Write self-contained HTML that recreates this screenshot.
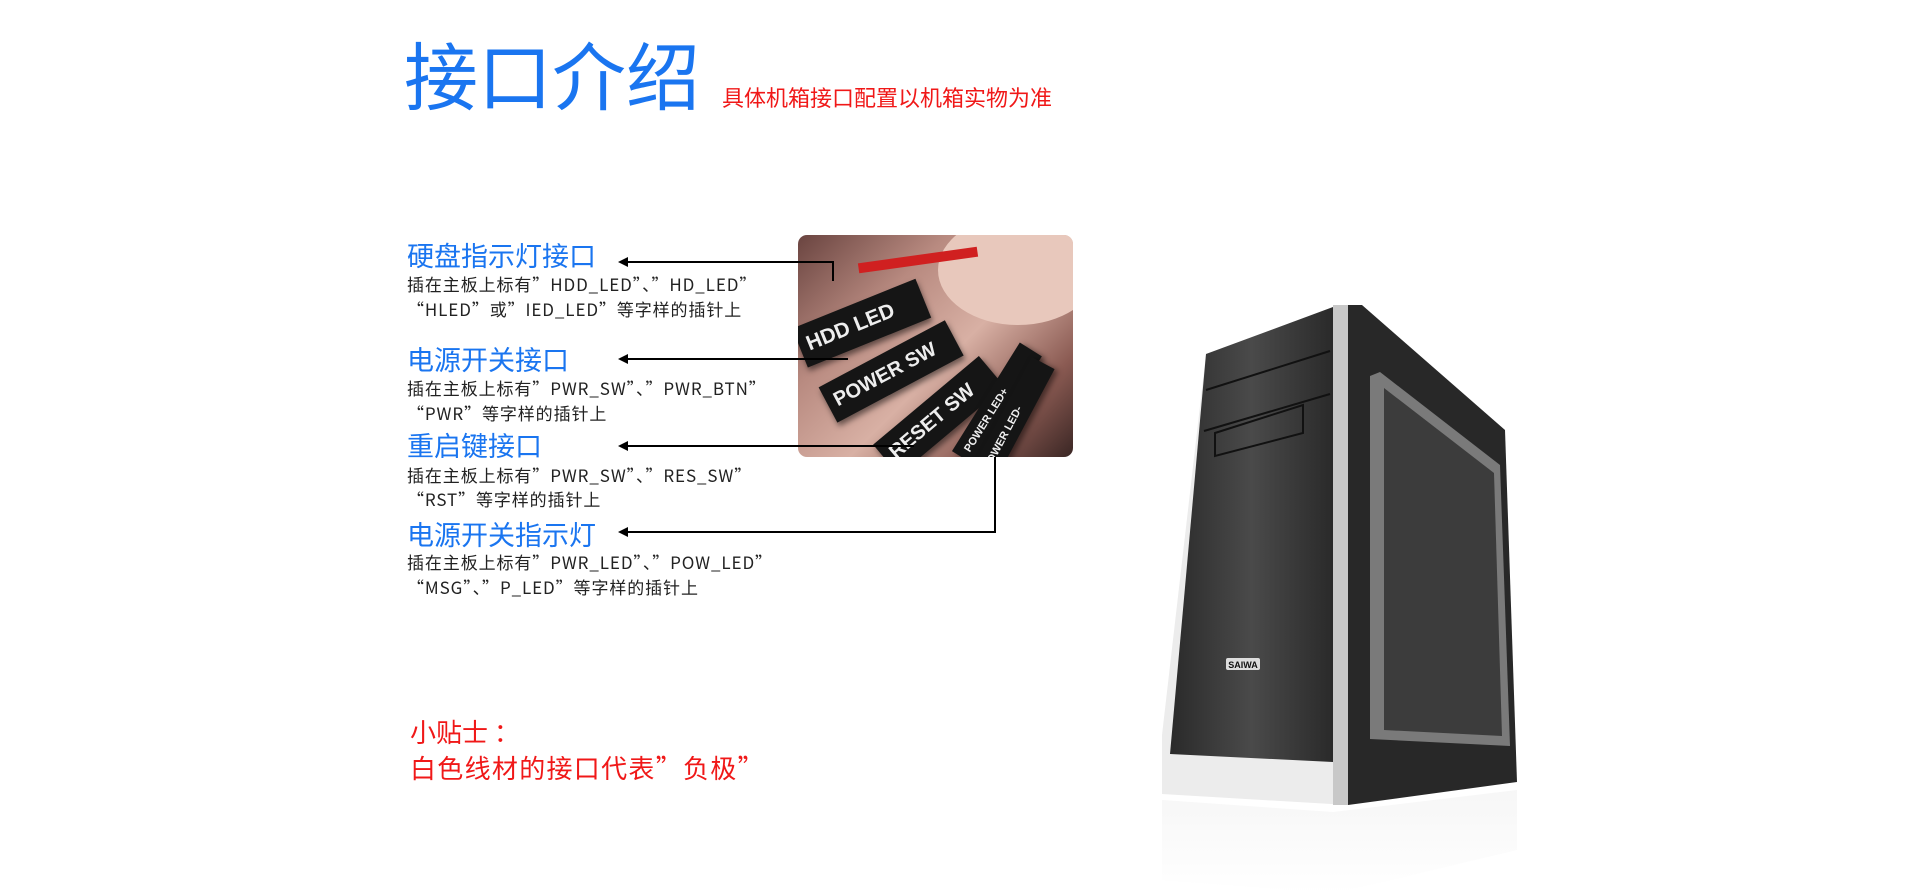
<!DOCTYPE html>
<html><head><meta charset="utf-8"><style>
*{margin:0;padding:0}
body{width:1920px;height:896px;background:#fff;position:relative;overflow:hidden;font-family:"Liberation Sans","Noto Sans CJK SC",sans-serif}
.a{position:absolute;white-space:nowrap}
.h{color:#1a75f0;font-size:27px;line-height:28px;font-family:"Noto Sans CJK SC",sans-serif}
.d{color:#222;font-size:17px;letter-spacing:0.9px;line-height:18px;font-family:"Noto Sans CJK SC",sans-serif}
.r{color:#f01818;font-family:"Noto Sans CJK SC",sans-serif}
.ln{position:absolute;background:#000}
.ar{position:absolute;width:0;height:0;border-top:5px solid transparent;border-bottom:5px solid transparent;border-right:10px solid #000}
.tag{position:absolute;background:#151515;color:#eee;font-weight:bold;font-family:"Liberation Sans",sans-serif;transform-origin:left center;padding-left:8px;box-shadow:0 4px 6px rgba(0,0,0,.5)}
</style></head><body>
<div class="a" style="left:404px;top:28px;font-size:74px;line-height:90px;color:#1a75f0;font-family:'Noto Sans CJK SC',sans-serif">接口介绍</div>
<div class="a r" style="left:722px;top:84px;font-size:22px;line-height:26px">具体机箱接口配置以机箱实物为准</div>

<div class="a h" style="left:407px;top:241px">硬盘指示灯接口</div>
<div class="a d" style="left:407px;top:275px">插在主板上标有”HDD_LED”、”HD_LED”</div>
<div class="a d" style="left:407px;top:300px">“HLED”或”IED_LED”等字样的插针上</div>
<div class="a h" style="left:407px;top:345px">电源开关接口</div>
<div class="a d" style="left:407px;top:379px">插在主板上标有”PWR_SW”、”PWR_BTN”</div>
<div class="a d" style="left:407px;top:404px">“PWR”等字样的插针上</div>
<div class="a h" style="left:407px;top:431px">重启键接口</div>
<div class="a d" style="left:407px;top:466px">插在主板上标有”PWR_SW”、”RES_SW”</div>
<div class="a d" style="left:407px;top:490px">“RST”等字样的插针上</div>
<div class="a h" style="left:407px;top:520px">电源开关指示灯</div>
<div class="a d" style="left:407px;top:553px">插在主板上标有”PWR_LED”、”POW_LED”</div>
<div class="a d" style="left:407px;top:578px">“MSG”、”P_LED”等字样的插针上</div>

<div class="a r" style="left:410px;top:717px;font-size:26px;line-height:30px">小贴士 ：</div>
<div class="a r" style="left:410px;top:753px;font-size:26px;line-height:30px;letter-spacing:1.3px">白色线材的接口代表”负极”</div>

<!-- photo -->
<div class="a" style="left:798px;top:235px;width:275px;height:222px;border-radius:9px;overflow:hidden;background:linear-gradient(135deg,#6a4440 0%,#b88a80 30%,#d8b0a4 55%,#8a5a52 80%,#3a2624 100%)">
 <div style="position:absolute;left:140px;top:-20px;width:160px;height:110px;border-radius:50%;background:#e8c8bc"></div>
 <div style="position:absolute;left:60px;top:20px;width:120px;height:10px;background:#d02020;transform:rotate(-8deg)"></div>
 <div class="tag" style="left:2px;top:92px;width:125px;height:42px;font-size:21px;line-height:42px;transform:rotate(-22deg)">HDD LED</div>
 <div class="tag" style="left:30px;top:150px;width:135px;height:40px;font-size:20px;line-height:40px;transform:rotate(-28deg)">POWER SW</div>
 <div class="tag" style="left:88px;top:205px;width:130px;height:40px;font-size:20px;line-height:40px;transform:rotate(-40deg)">RESET SW</div>
 <div class="tag" style="left:165px;top:210px;width:120px;height:26px;font-size:11px;line-height:26px;transform:rotate(-58deg)">POWER LED+</div>
 <div class="tag" style="left:185px;top:228px;width:120px;height:26px;font-size:11px;line-height:26px;transform:rotate(-62deg)">POWER LED-</div>
</div>

<!-- connectors -->
<div class="ln" style="left:626px;top:261px;width:208px;height:2px"></div>
<div class="ln" style="left:832px;top:261px;width:2px;height:20px"></div>
<div class="ar" style="left:618px;top:257px"></div>
<div class="ln" style="left:626px;top:358px;width:222px;height:2px"></div>
<div class="ar" style="left:618px;top:354px"></div>
<div class="ln" style="left:626px;top:445px;width:288px;height:2px"></div>
<div class="ar" style="left:618px;top:441px"></div>
<div class="ln" style="left:626px;top:531px;width:370px;height:2px"></div>
<div class="ln" style="left:994px;top:457px;width:2px;height:76px"></div>
<div class="ar" style="left:618px;top:527px"></div>

<!-- case -->
<svg class="a" style="left:0;top:0" width="1920" height="896">
 <defs>
  <linearGradient id="fr" x1="0" x2="1"><stop offset="0" stop-color="#2a2a2a"/><stop offset=".5" stop-color="#4a4a4a"/><stop offset="1" stop-color="#2a2a2a"/></linearGradient>
  <linearGradient id="rf" x1="0" y1="0" x2="0" y2="1"><stop offset="0" stop-color="#eee"/><stop offset="1" stop-color="#fff"/></linearGradient>
 </defs>
 <polygon points="1162,800 1333,812 1517,790 1517,850 1333,894 1162,880" fill="url(#rf)" opacity=".5"/>
 <polygon points="1206,354 1333,307 1348,305 1348,805 1162,794 1162,735" fill="#ececec"/>
 <polygon points="1206,354 1333,307 1333,762 1170,754" fill="url(#fr)"/>
 <polygon points="1333,305 1348,305 1348,805 1333,805" fill="#c8c8c8"/>
 <polygon points="1348,305 1362,305 1505,430 1517,782 1348,805" fill="#282828"/>
 <polygon points="1370,376 1380,372 1500,465 1510,746 1370,739" fill="#7a7a7a"/>
 <polygon points="1384,388 1494,473 1502,736 1384,730" fill="#3c3c3c"/>
 <line x1="1206" y1="390" x2="1330" y2="351" stroke="#111" stroke-width="2"/>
 <line x1="1204" y1="431" x2="1330" y2="394" stroke="#111" stroke-width="2"/>
 <polygon points="1215,433 1303,405 1303,433 1215,456" fill="none" stroke="#111" stroke-width="2"/>
 <rect x="1226" y="658" width="34" height="12" rx="2" fill="#ddd"/>
 <text x="1243" y="668" font-size="9" font-weight="bold" text-anchor="middle" font-family="Liberation Sans" fill="#111">SAIWA</text>
</svg>
</body></html>
